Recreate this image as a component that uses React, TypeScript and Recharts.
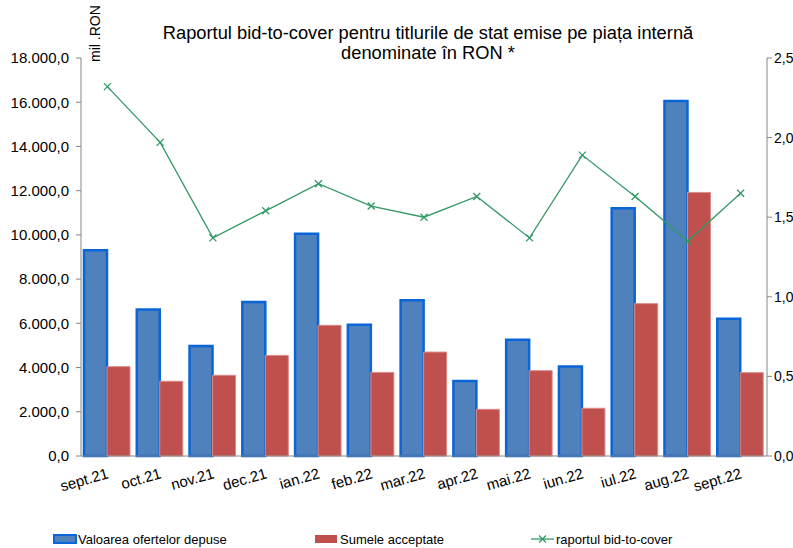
import { ComposedChart, Bar, Line, XAxis, YAxis } from 'recharts';

const categories = ['sept.21', 'oct.21', 'nov.21', 'dec.21', 'ian.22', 'feb.22', 'mar.22', 'apr.22', 'mai.22', 'iun.22', 'iul.22', 'aug.22', 'sept.22'];
const offers = [9300, 6630, 4970, 6960, 10050, 5940, 7040, 3390, 5260, 4050, 11200, 16050, 6210];
const accepted = [4040, 3380, 3650, 4550, 5910, 3780, 4700, 2110, 3860, 2160, 6890, 11920, 3770];
const ratio = [2.32, 1.97, 1.37, 1.54, 1.71, 1.57, 1.5, 1.63, 1.37, 1.89, 1.63, 1.35, 1.65];
const leftTicks = [0, 2000, 4000, 6000, 8000, 10000, 12000, 14000, 16000, 18000];
const rightTicks = [0, 0.5, 1, 1.5, 2, 2.5];
const boundaryTicks = categories.map((_, i) => i).concat(categories.length);

const data = categories.map((name, i) => ({ name, offers: offers[i], accepted: accepted[i], ratio: ratio[i] }));

const FONT = '"Liberation Sans", Arial, sans-serif';
const AXIS = '#868686';

const fmtLeft = (v: number) => {
  const s = Math.round(v).toString().replace(/\B(?=(\d{3})+(?!\d))/g, '.');
  return s + ',0';
};
const fmtRight = (v: number) => v.toFixed(1).replace('.', ',');

const XTick = (props: any) => {
  const { x, y, payload } = props;
  return (
    <g transform={`translate(${x + 2},${y + 14})`}>
      <text textAnchor="end" transform="rotate(-16)" fontSize={15} fill="#000" fontFamily={FONT}>
        {payload.value}
      </text>
    </g>
  );
};

const Cross = (props: any) => {
  const { cx, cy } = props;
  if (cx == null || cy == null) return null;
  const r = 3.5;
  return (
    <g stroke="#339966" strokeWidth={1.3}>
      <line x1={cx - r} y1={cy - r} x2={cx + r} y2={cy + r} />
      <line x1={cx - r} y1={cy + r} x2={cx + r} y2={cy - r} />
    </g>
  );
};

export default function App() {
  return (
    <div style={{ position: 'relative', width: 793, height: 548, fontFamily: FONT, background: '#fff' }}>
      <style>{'body{margin:0}'}</style>
      <ComposedChart
        width={793}
        height={548}
        data={data}
        margin={{ top: 58, right: 0, left: 0, bottom: 0 }}
        barCategoryGap={3}
        barGap={0}
      >
        <XAxis
          xAxisId="bounds"
          type="number"
          domain={[0, categories.length]}
          ticks={boundaryTicks}
          height={0}
          axisLine={false}
          tick={false}
          tickSize={5}
          stroke={AXIS}
          interval={0}
        />
        <XAxis
          dataKey="name"
          height={92}
          stroke={AXIS}
          tickLine={false}
          tick={<XTick />}
          interval={0}
        />
        <YAxis
          yAxisId="left"
          width={81}
          domain={[0, 18000]}
          ticks={leftTicks}
          tickFormatter={fmtLeft}
          stroke={AXIS}
          tickSize={5}
          tickMargin={7}
          tick={{ fill: '#000', fontSize: 15, fontFamily: FONT }}
          interval={0}
        />
        <YAxis
          yAxisId="right"
          orientation="right"
          width={26}
          domain={[0, 2.5]}
          ticks={rightTicks}
          tickFormatter={fmtRight}
          stroke={AXIS}
          tickSize={5}
          tickMargin={2}
          tick={{ fill: '#000', fontSize: 14, fontFamily: FONT, textAnchor: 'start' }}
          interval={0}
        />
        <Bar yAxisId="left" dataKey="offers" fill="#4F81BD" stroke="#0A66D6" strokeWidth={2.5} isAnimationActive={false} />
        <Bar yAxisId="left" dataKey="accepted" fill="#C0504D" stroke="#D88C8A" strokeWidth={1} isAnimationActive={false} />
        <Line
          yAxisId="right"
          dataKey="ratio"
          stroke="#339966"
          strokeWidth={1.3}
          dot={<Cross />}
          activeDot={false}
          isAnimationActive={false}
        />
      </ComposedChart>
      <svg width={793} height={548} style={{ position: 'absolute', left: 0, top: 0, pointerEvents: 'none' }}>
        <text x={428} y={39} textAnchor="middle" fontSize={18.3} fontFamily={FONT} fill="#000">
          Raportul bid-to-cover pentru titlurile de stat emise pe piața internă
        </text>
        <text x={428} y={59} textAnchor="middle" fontSize={18.3} fontFamily={FONT} fill="#000">
          denominate în RON *
        </text>
        <text transform="translate(100,62) rotate(-90)" fontSize={14} fontFamily={FONT} fill="#000">
          mil .RON
        </text>
        <g fontSize={13} fontFamily={FONT} fill="#000">
          <rect x={54} y={535} width={22} height={8} fill="#4F81BD" stroke="#0A66D6" strokeWidth={2} />
          <text x={78} y={544}>Valoarea ofertelor depuse</text>
          <rect x={315} y={535} width={22} height={8} fill="#C0504D" />
          <text x={340} y={544}>Sumele acceptate</text>
          <line x1={531} y1={539} x2={554} y2={539} stroke="#339966" strokeWidth={1.3} />
          <Cross cx={542.5} cy={539} />
          <text x={556} y={544}>raportul bid-to-cover</text>
        </g>
      </svg>
    </div>
  );
}
